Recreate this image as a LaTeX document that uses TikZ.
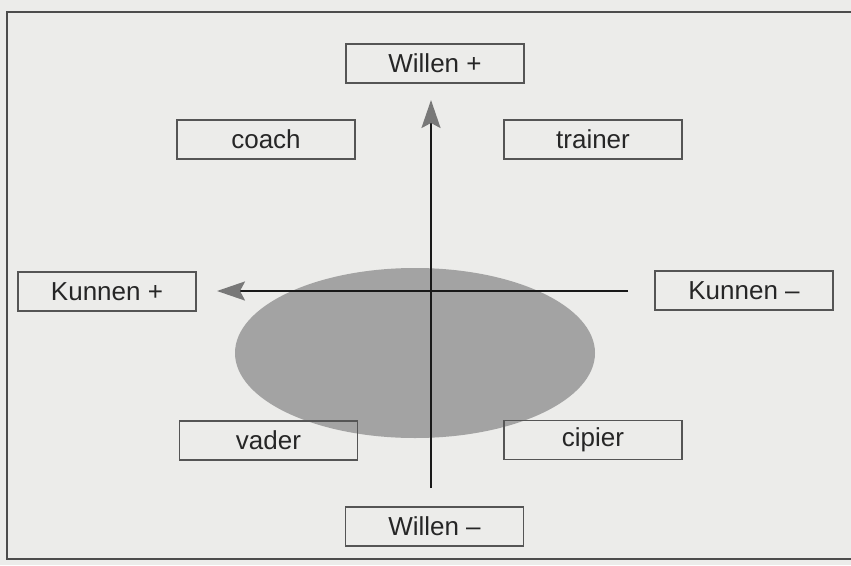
\documentclass[tikz,border=0pt]{standalone}
\usepackage{fontspec}
\setmainfont{Liberation Sans}
\usetikzlibrary{arrows.meta}
\definecolor{bg}{RGB}{236,236,234}
\definecolor{ell}{RGB}{163,163,163}
\definecolor{boxline}{RGB}{85,85,85}
\definecolor{tipgray}{RGB}{120,120,120}
\begin{document}
\begin{tikzpicture}[x=1pt,y=-1pt,
  label box/.style={draw=boxline,line width=1.3pt,minimum width=178pt,minimum height=39pt,inner sep=0pt,font=\fontsize{26}{30}\selectfont,text=black!85},
  axis/.style={line width=2.4pt,draw=black!90,-{Stealth[length=28pt,width=19pt,inset=5pt,color=tipgray]}}]
\useasboundingbox (0,0) rectangle (851,565);
\fill[bg] (0,0) rectangle (851,565);
\draw[line width=2pt,draw=black!70] (860,12) -- (7,12) -- (7,559) -- (860,559);
\fill[ell] (415,353) ellipse [x radius=180, y radius=85];
\node[label box] (wp) at (435,63.5) {Willen +};
\node[label box] (wm) at (434.5,526.5) {Willen –};
\node[label box] (coach) at (266,139.5) {coach};
\node[label box] (trainer) at (593,139.5) {trainer};
\node[label box] (kp) at (107,291.5) {Kunnen +};
\node[label box] (km) at (744,290.5) {Kunnen –};
\node[label box] (vader) at (268.5,440.5) {vader};
\node[label box] (cipier) at (593,440) {cipier};
\coordinate (vbot) at (431,488);
\coordinate (vtop) at (431,100);
\coordinate (hright) at (628,291);
\coordinate (hleft) at (217,291);
\draw[axis] (vbot) -- (vtop);
\draw[axis] (hright) -- (hleft);
\end{tikzpicture}
\end{document}
